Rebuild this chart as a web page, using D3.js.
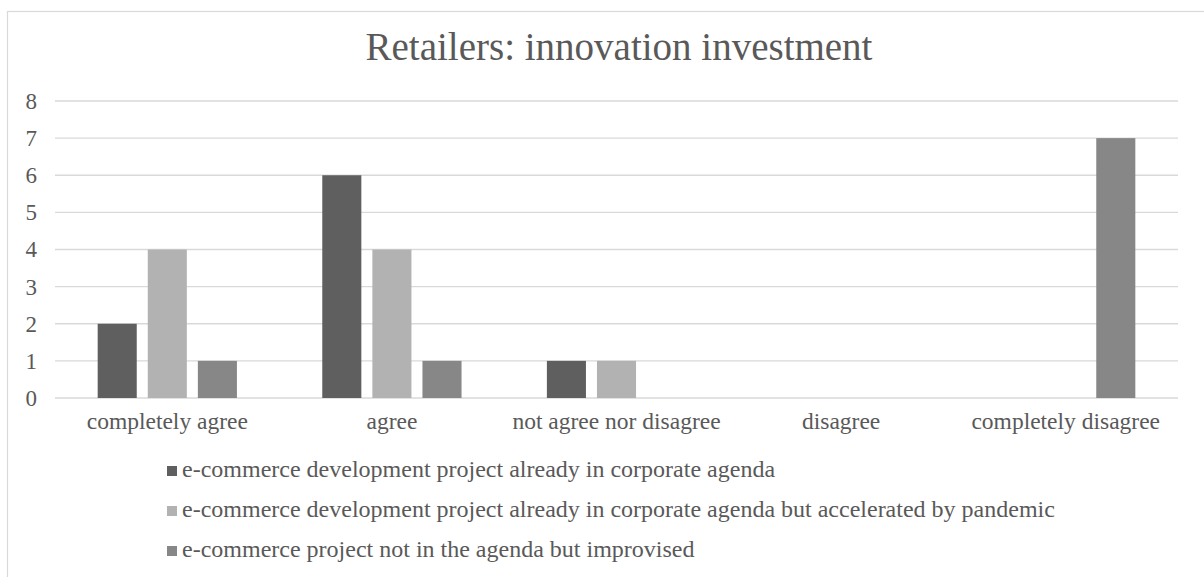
<!DOCTYPE html>
<html>
<head>
<meta charset="utf-8">
<script src="https://cdn.jsdelivr.net/npm/d3@7"></script>
<style>
  html, body { margin: 0; padding: 0; background: #fff; }
  svg { display: block; }
</style>
</head>
<body>
<svg id="chart" width="1204" height="577"></svg>
<script>
const categories = ["completely agree", "agree", "not agree nor disagree", "disagree", "completely disagree"];
const seriesNames = [
  "e-commerce development project already in corporate agenda",
  "e-commerce development project already in corporate agenda but accelerated by pandemic",
  "e-commerce project not in the agenda but improvised"
];
const seriesAgenda = [2, 6, 1, 0, 0];
const seriesAccelerated = [4, 4, 1, 0, 0];
const seriesImprovised = [1, 1, 0, 0, 7];
const yTicks = [0, 1, 2, 3, 4, 5, 6, 7, 8];
const colors = ["#5f5f5f", "#b2b2b2", "#878787"];
const title = "Retailers: innovation investment";

const allSeries = [seriesAgenda, seriesAccelerated, seriesImprovised];
const FONT = "'Liberation Serif', serif";
const TEXT = "#595959";

const svg = d3.select("#chart");
const W = 1204, H = 577;

// chart border
svg.append("rect")
  .attr("x", 7.5).attr("y", 11.5)
  .attr("width", W + 10).attr("height", H + 10)
  .attr("fill", "none").attr("stroke", "#d9d9d9").attr("stroke-width", 1.2);

// title
svg.append("text")
  .attr("x", 619).attr("y", 60)
  .attr("text-anchor", "middle")
  .style("font-family", FONT).style("font-size", "39px").style("fill", TEXT)
  .text(title);

const plot = { left: 55, right: 1178, top: 101, bottom: 398 };

const y = d3.scaleLinear().domain([0, 8]).range([plot.bottom, plot.top]);
const x0 = d3.scaleBand().domain(categories).range([plot.left, plot.right]).paddingInner(0).paddingOuter(0);
const gw = x0.bandwidth();
const x1 = d3.scaleBand().domain(d3.range(allSeries.length))
  .range([gw * 0.19, gw * 0.81]).paddingInner(0.22).paddingOuter(0);

// gridlines
svg.append("g").selectAll("line").data(yTicks).join("line")
  .attr("x1", plot.left).attr("x2", plot.right)
  .attr("y1", d => y(d)).attr("y2", d => y(d))
  .attr("stroke", "#d9d9d9").attr("stroke-width", 1.3);

// y axis labels
const yAxis = d3.axisLeft(y).tickValues(yTicks).tickSize(0).tickPadding(0).tickFormat(d3.format("d"));
const ya = svg.append("g").attr("transform", "translate(37,0)").call(yAxis)
  .attr("font-family", null).attr("font-size", null);
ya.select(".domain").remove();
ya.selectAll("text")
  .style("font-family", FONT).style("font-size", "23px").style("fill", TEXT)
  .attr("fill", null);

// bars
const groups = svg.append("g").selectAll("g").data(categories).join("g")
  .attr("transform", d => `translate(${x0(d)},0)`);
groups.selectAll("rect")
  .data((c, ci) => allSeries.map((s, si) => ({ si, v: s[ci] })))
  .join("rect")
  .attr("x", d => x1(d.si))
  .attr("width", x1.bandwidth())
  .attr("y", d => y(d.v))
  .attr("height", d => y(0) - y(d.v))
  .attr("fill", d => colors[d.si]);

// x axis labels
const xAxis = d3.axisBottom(x0).tickSize(0).tickPadding(0);
const xa = svg.append("g").attr("transform", `translate(0,${plot.bottom})`).call(xAxis)
  .attr("font-family", null).attr("font-size", null);
xa.select(".domain").remove();
xa.selectAll("text")
  .style("font-family", FONT).style("font-size", "23.5px").style("fill", TEXT)
  .attr("fill", null)
  .attr("dy", null).attr("y", 31);

// legend
const legend = svg.append("g").selectAll("g").data(seriesNames).join("g")
  .attr("transform", (d, i) => `translate(167,${477 + i * 40})`);
legend.append("rect")
  .attr("x", 0).attr("y", -11).attr("width", 10).attr("height", 10)
  .attr("fill", (d, i) => colors[i]);
legend.append("text")
  .attr("x", 15).attr("y", 0)
  .style("font-family", FONT).style("font-size", "24px").style("fill", TEXT)
  .text(d => d);
</script>
</body>
</html>
